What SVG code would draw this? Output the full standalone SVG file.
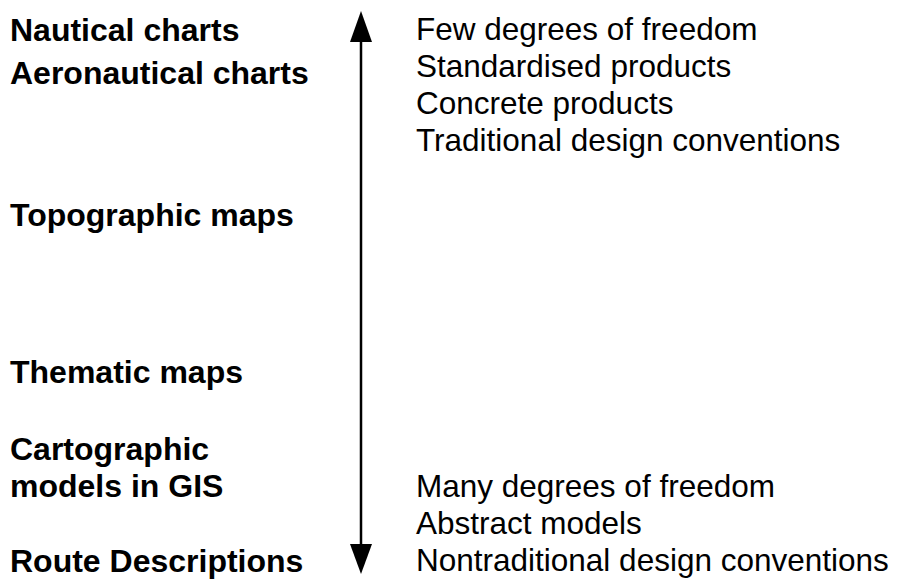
<svg xmlns="http://www.w3.org/2000/svg" width="898" height="583" viewBox="0 0 898 583">
<style>
text{font-family:"Liberation Sans",Arial,sans-serif;font-size:31.5px;fill:#000}
.b{font-weight:bold;font-size:32px}
</style>
<rect width="898" height="583" fill="#fff"/>
<g id="connectors">
<line x1="361" y1="40" x2="361" y2="546" stroke="#000" stroke-width="2.5"/>
<polygon points="361,11 350,42 372,42" fill="#000"/>
<polygon points="361,574 350,544 372,544" fill="#000"/>
</g>
<g id="left">
<text class="b" x="10" y="41">Nautical charts</text>
<text class="b" x="10" y="84">Aeronautical charts</text>
<text class="b" x="10" y="226">Topographic maps</text>
<text class="b" x="10" y="383">Thematic maps</text>
<text class="b" x="10" y="460">Cartographic</text>
<text class="b" x="10" y="497">models in GIS</text>
<text class="b" x="10" y="572">Route Descriptions</text>
</g>
<g id="right-top">
<text x="416" y="40">Few degrees of freedom</text>
<text x="416" y="77">Standardised products</text>
<text x="416" y="114">Concrete products</text>
<text x="416" y="151">Traditional design conventions</text>
</g>
<g id="right-bottom">
<text x="416" y="497">Many degrees of freedom</text>
<text x="416" y="534">Abstract models</text>
<text x="416" y="571">Nontraditional design conventions</text>
</g>
</svg>
